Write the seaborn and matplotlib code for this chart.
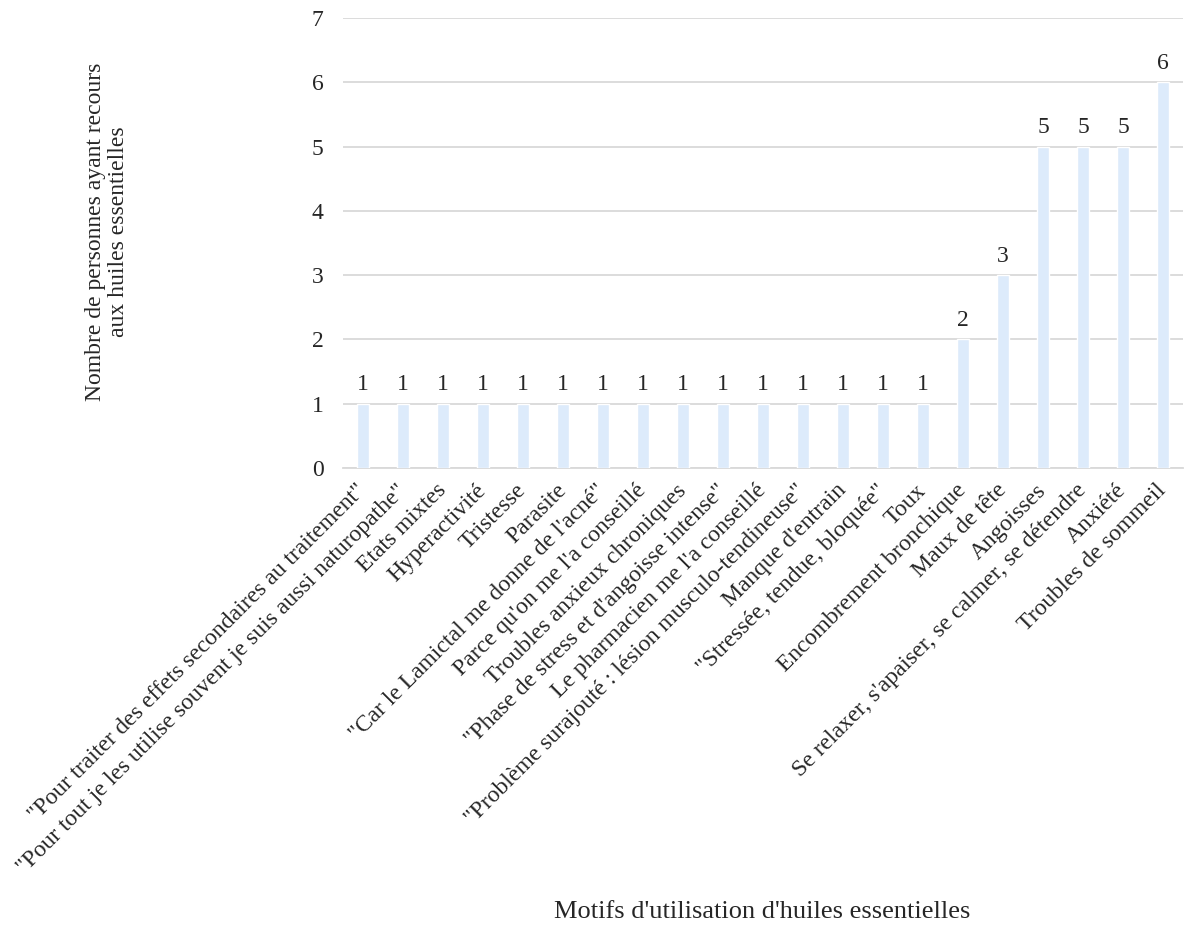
import matplotlib
matplotlib.use("Agg")
import matplotlib.pyplot as plt
import seaborn as sns
import pandas as pd

motifs = [
    "\"Pour traiter des effets secondaires au traitement\"",
    "\"Pour tout je les utilise souvent je suis aussi naturopathe\"",
    "Etats mixtes",
    "Hyperactivité",
    "Tristesse",
    "Parasite",
    "\"Car le Lamictal me donne de l'acné\"",
    "Parce qu'on me l'a conseillé",
    "Troubles anxieux chroniques",
    "\"Phase de stress et d'angoisse intense\"",
    "Le pharmacien me l'a conseillé",
    "\"Problème surajouté : lésion musculo-tendineuse\"",
    "Manque d'entrain",
    "\"Stressée, tendue, bloquée\"",
    "Toux",
    "Encombrement bronchique",
    "Maux de tête",
    "Angoisses",
    "Se relaxer, s'apaiser, se calmer, se détendre",
    "Anxiété",
    "Troubles de sommeil",
]
nombres = [1, 1, 1, 1, 1, 1, 1, 1, 1, 1, 1, 1, 1, 1, 1, 2, 3, 5, 5, 5, 6]
y_ticks = [0, 1, 2, 3, 4, 5, 6, 7]

df = pd.DataFrame({"motif": motifs, "n": nombres})

sns.set_theme(style="white")
plt.rcParams["font.family"] = ["Liberation Serif", "DejaVu Serif"]

fig = plt.figure(figsize=(11.85, 9.3), dpi=100)
ax = fig.add_axes([343 / 1185, 1 - 468 / 930, (1183 - 343) / 1185, (468 - 18) / 930])

sns.barplot(data=df, x="motif", y="n", color="#DDEBFB", saturation=1,
            width=0.31, ax=ax, zorder=3)

ax.set_ylim(0, 7)
ax.set_xlim(-0.5, len(motifs) - 0.5)
ax.set_yticks(y_ticks)
ax.yaxis.grid(True, color="#D9D9D9", linewidth=1.3, zorder=0)
ax.set_axisbelow(True)
for side in ["top", "right", "left"]:
    ax.spines[side].set_visible(False)
ax.spines["bottom"].set_color("#D9D9D9")
ax.spines["bottom"].set_linewidth(1.3)
ax.tick_params(axis="both", length=0, labelsize=17, colors="#262626")
ax.tick_params(axis="y", pad=14)
ax.tick_params(axis="x", pad=14)
plt.setp(ax.get_xticklabels(), rotation=45, ha="right", va="center",
         rotation_mode="anchor")

for i, v in enumerate(nombres):
    ax.annotate(str(v), (i, v), xytext=(0, 6), textcoords="offset points",
                ha="center", va="bottom", fontsize=17, color="#262626")

ax.set_xlabel("")
ax.set_ylabel("")
fig.text(762 / 1185, 1 - 912 / 930, "Motifs d'utilisation d'huiles essentielles",
         ha="center", va="center", fontsize=19, color="#262626")
fig.text(107 / 1185, 1 - 232 / 930,
         "Nombre de personnes ayant recours\naux huiles essentielles",
         ha="center", va="center", rotation=90, multialignment="center",
         fontsize=17, color="#262626", linespacing=1.1)

fig.savefig("out.png", dpi=100)
